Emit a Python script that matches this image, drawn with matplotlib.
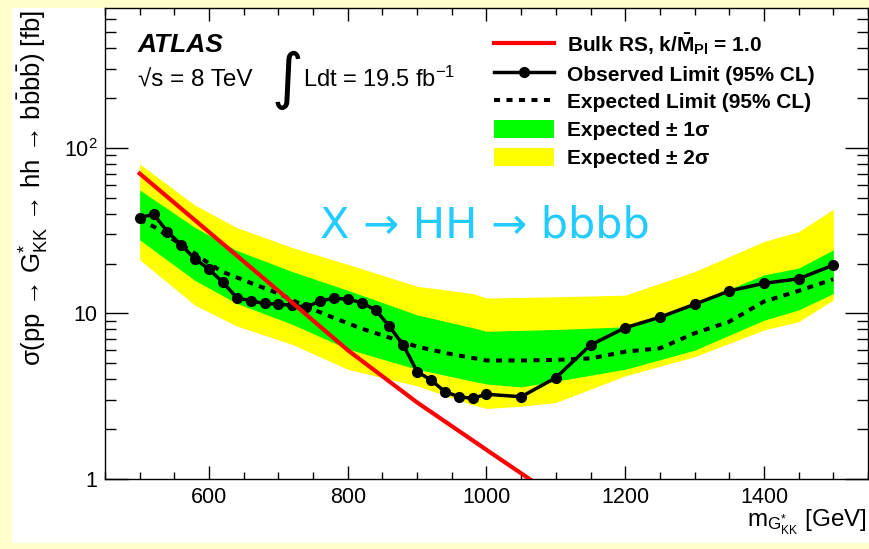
import numpy as np
import matplotlib
matplotlib.use('Agg')
import matplotlib.pyplot as plt
from matplotlib.patches import Rectangle, Patch
from matplotlib.lines import Line2D
from matplotlib.ticker import FixedLocator, FixedFormatter, NullFormatter

plt.rcParams['font.family'] = ['Liberation Sans', 'DejaVu Sans']
plt.rcParams['mathtext.fontset'] = 'custom'
plt.rcParams['mathtext.rm'] = 'Liberation Sans'
plt.rcParams['mathtext.it'] = 'Liberation Sans:italic'
plt.rcParams['mathtext.bf'] = 'Liberation Sans:bold'

# observed limit (95% CL)
mass_obs = [500, 520, 540, 560, 580, 600, 620, 640, 660, 680, 700, 720, 740, 760, 780,
            800, 820, 840, 860, 880, 900, 920, 940, 960, 980, 1000, 1050, 1100, 1150,
            1200, 1250, 1300, 1350, 1400, 1450, 1500]
obs = [37.9, 39.7, 31.2, 25.9, 21.3, 18.5, 15.4, 12.46, 11.9, 11.5, 11.36, 11.2, 10.9,
       11.9, 12.35, 12.2, 11.6, 10.5, 8.35, 6.45, 4.45, 3.96, 3.37, 3.14, 3.07, 3.25,
       3.14, 4.09, 6.45, 8.2, 9.49, 11.36, 13.68, 15.2, 16.2, 19.6]

# expected limit
mass_exp = [500, 520, 540, 560, 580, 600, 620, 640, 660, 700, 740, 780, 820, 860, 900,
            950, 1000, 1050, 1100, 1150, 1200, 1250, 1300, 1350, 1400, 1450, 1500]
exp = [37.0, 33.5, 29.5, 26.0, 23.0, 20.0, 17.8, 16.5, 15.3, 13.2, 11.0, 9.4, 8.1, 7.15,
       6.3, 5.67, 5.2, 5.2, 5.24, 5.35, 5.88, 6.16, 7.59, 8.92, 11.8, 13.7, 16.1]

# expected bands
mass_band = [500, 580, 640, 720, 800, 900, 980, 1000, 1050, 1100, 1200, 1300, 1400, 1450, 1500]
up2 = [80, 45, 33, 25, 19.8, 14.6, 13.2, 12.4, 12.5, 12.6, 12.9, 17.9, 27.2, 31.2, 42.6]
up1 = [55.7, 33, 24, 17.9, 13.8, 9.8, 8.2, 7.8, 7.9, 8.0, 8.3, 11.5, 17.1, 18.8, 24.2]
dn1 = [27.8, 15.8, 11.5, 8.6, 6.1, 4.6, 3.9, 3.75, 3.6, 3.9, 4.6, 6.0, 9.1, 10.5, 13.2]
dn2 = [21.1, 11.2, 8.4, 6.5, 4.6, 3.65, 2.8, 2.67, 2.75, 2.9, 4.2, 5.48, 7.95, 8.92, 12.07]

# Bulk RS theory, k/MPl = 1.0
mass_rs = [500, 600, 700, 800, 900, 1000, 1100]
xs_rs = [70, 31, 13.7, 6.0, 2.9, 1.5, 0.78]

fig = plt.figure(figsize=(8.69, 5.49), dpi=100, facecolor='#FFFFCC')
fig.patches.append(Rectangle((12/869, 6/549), 1 - 12/869, 535.5/549,
                             transform=fig.transFigure, facecolor='white',
                             edgecolor='none', zorder=-10))

ax = fig.add_axes([105/869, 70/549, 763/869, 471/549])
ax.set_facecolor('white')

ax.fill_between(mass_band, dn2, up2, color='#FFFF00', lw=0, zorder=1)
ax.fill_between(mass_band, dn1, up1, color='#00FF00', lw=0, zorder=2)
ax.plot(mass_exp, exp, color='black', lw=2.9, linestyle=(0, (1.5, 1.6)), zorder=3)
ax.plot(mass_obs, obs, color='black', lw=2.5, marker='o', ms=7, zorder=4)
ax.plot(mass_rs, xs_rs, color='#FF0000', lw=3.0, zorder=5)

ax.set_yscale('log')
ax.set_xlim(450, 1550)
ax.set_ylim(1, 700)

ax.xaxis.set_major_locator(FixedLocator([600, 800, 1000, 1200, 1400]))
ax.xaxis.set_minor_locator(FixedLocator(np.arange(450, 1551, 50)))
ax.yaxis.set_major_locator(FixedLocator([1, 10, 100]))
ax.yaxis.set_major_formatter(FixedFormatter(['1', '10', r'$\mathregular{10^{2}}$']))
minor_y = [m * d for d in (1, 10, 100) for m in range(2, 10) if m * d < 700]
ax.yaxis.set_minor_locator(FixedLocator(minor_y))
ax.yaxis.set_minor_formatter(NullFormatter())

ax.tick_params(axis='both', which='both', direction='in', top=True, right=True,
               width=1, color='black')
ax.tick_params(axis='x', which='major', length=9.5, pad=6, labelsize=15.5)
ax.tick_params(axis='x', which='minor', length=5)
ax.tick_params(axis='y', which='major', length=16.5, pad=5.5, labelsize=15.5)
ax.tick_params(axis='y', which='minor', length=8)
for s in ax.spines.values():
    s.set_linewidth(1)

# axis titles
fig.text(33/869, 1 - 10/549,
         r'σ(pp → G$^{*}_{\mathregular{KK}}$ → hh → b$\bar{\mathregular{b}}$b$\bar{\mathregular{b}}$) [fb]',
         rotation=90, ha='center', va='top', fontsize=18.5)
fig.text(867/869, 1 - 527/549, r'm$_{\mathregular{G^{*}_{KK}}}$ [GeV]',
         ha='right', va='baseline', fontsize=17.5)

# ATLAS label
fig.text(138/869, 1 - 52/549, 'ATLAS', fontsize=19, fontweight='bold',
         fontstyle='italic', va='baseline')
fig.text(138/869, 1 - 87/549, '√s = 8 TeV', fontsize=17.5, va='baseline')
fig.text(272/869, 1 - 97/549, '∫', fontsize=44, va='baseline',
         family=['DejaVu Sans'])
fig.text(303/869, 1 - 87/549, r'Ldt = 19.5 fb$^{\mathregular{-1}}$', fontsize=17,
         va='baseline')

fig.text(320/869, 1 - 238/549, 'X → HH → bbbb', fontsize=31, color='#22CCFF',
         va='baseline', family='DejaVu Sans')

handles = [
    Line2D([], [], color='#FF0000', lw=3.0),
    Line2D([], [], color='black', lw=2.5, marker='o', ms=7),
    Line2D([], [], color='black', lw=2.9, linestyle=(0, (1.5, 1.6))),
    Patch(facecolor='#00FF00', edgecolor='none'),
    Patch(facecolor='#FFFF00', edgecolor='none'),
]
labels = [
    r'Bulk RS, k/$\mathbf{\bar{M}_{Pl}}$ = 1.0',
    'Observed Limit (95% CL)',
    'Expected Limit (95% CL)',
    'Expected ± 1σ',
    'Expected ± 2σ',
]
leg = fig.legend(handles, labels, loc='upper left',
                 bbox_to_anchor=(494/869, 1 - 31/549), bbox_transform=fig.transFigure,
                 frameon=False, borderpad=0, borderaxespad=0, handlelength=2.9,
                 handleheight=0.97, handletextpad=0.62, labelspacing=0.36,
                 prop={'size': 15, 'weight': 'bold'})

fig.savefig('out.png', dpi=100, facecolor=fig.get_facecolor())
